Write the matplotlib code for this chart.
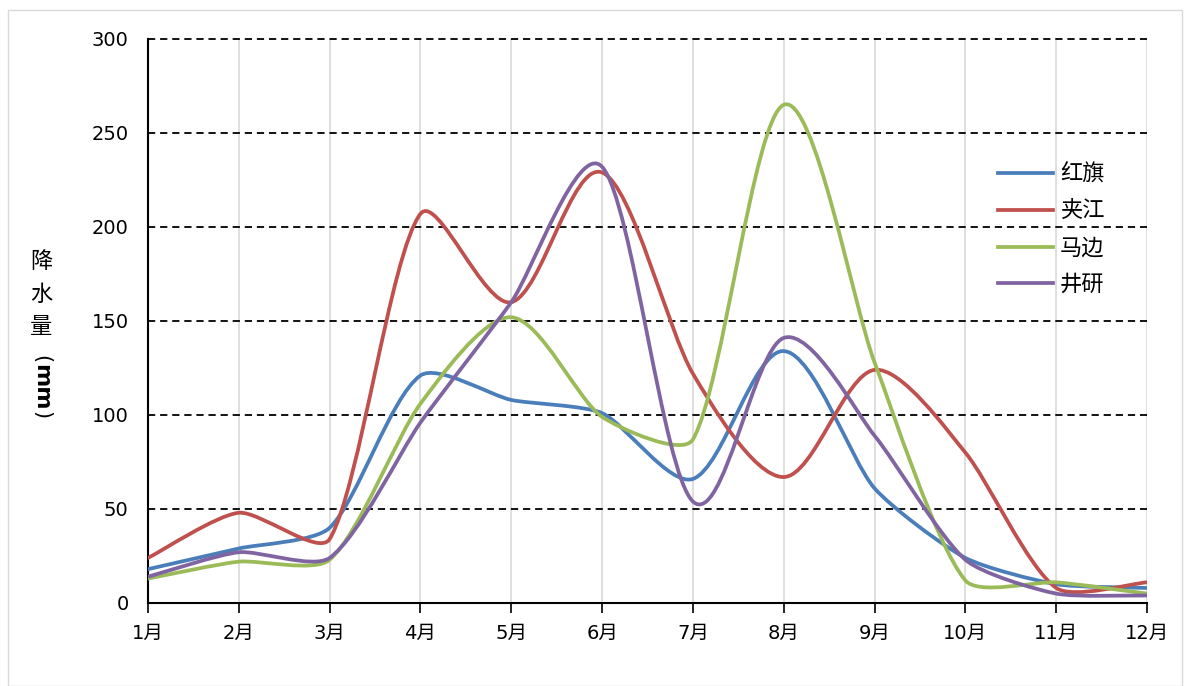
import matplotlib.pyplot as plt
import numpy as np
from matplotlib.path import Path
from matplotlib.patches import PathPatch, Rectangle
from matplotlib.lines import Line2D

months = ['1月', '2月', '3月', '4月', '5月', '6月', '7月', '8月', '9月', '10月', '11月', '12月']
hongqi = [18, 29, 40, 121, 108, 101, 66, 134, 61, 24, 10, 8]
jiajiang = [24, 48, 34, 207, 160, 229, 122, 67, 124, 80, 8, 11]
mabian = [13, 22, 23, 106, 152, 99, 87, 265, 128, 12, 11, 5]
jingyan = [14, 27, 24, 96, 160, 232, 54, 141, 89, 23, 5, 4]
names = ['红旗', '夹江', '马边', '井研']
colors = ['#4A7EBB', '#C0504D', '#9BBB59', '#8064A2']

fam = ['DejaVu Sans', 'Noto Sans CJK SC']
cjk = ['Noto Sans CJK SC', 'DejaVu Sans']

# pixel size of one month / one mm on the plot, used for the smoothing
SX = 999 / 11
SY = 564 / 300


def smooth_path(x, y, cap=0.22):
    # Excel-like smoothed line: catmull-rom handles, shortened next to short segments
    p = np.column_stack([np.asarray(x) * SX, np.asarray(y) * SY]).astype(float)
    n = len(p)
    h_in, h_out = [], []
    for i in range(n):
        a = p[i - 1] if i > 0 else p[i]
        b = p[i + 1] if i < n - 1 else p[i]
        t = (b - a) / 6
        L = np.linalg.norm(t)
        u = t / L
        d_in = np.linalg.norm(p[i] - a) if i > 0 else 0
        d_out = np.linalg.norm(b - p[i]) if i < n - 1 else 0
        h_in.append(u * min(L, cap * d_in if i > 0 else L))
        h_out.append(u * min(L, cap * d_out if i < n - 1 else L))
    verts = [p[0]]
    codes = [Path.MOVETO]
    for i in range(n - 1):
        verts += [p[i] + h_out[i], p[i + 1] - h_in[i + 1], p[i + 1]]
        codes += [Path.CURVE4] * 3
    verts = np.array(verts) / [SX, SY]
    return Path(verts, codes)


fig = plt.figure(figsize=(11.84, 6.86), dpi=100)
fig.patches.append(Rectangle((8 / 1184, 0), 1174 / 1184, 1 - 10 / 686, transform=fig.transFigure,
                             fill=False, edgecolor='#D9D9D9', linewidth=1))
ax = fig.add_axes([148 / 1184, 1 - 603 / 686, 999 / 1184, 564 / 686])

x = np.arange(1, 13)
for series, c in zip([hongqi, jiajiang, mabian, jingyan], colors):
    ax.add_patch(PathPatch(smooth_path(x, series), facecolor='none', edgecolor=c,
                           linewidth=2.7, capstyle='round', zorder=3))

ax.set_xlim(1, 12)
ax.set_ylim(0, 300)
ax.set_xticks(x)
ax.set_xticklabels(months, fontfamily=fam, fontsize=14)
ax.set_yticks(range(0, 301, 50))
ax.set_yticklabels([str(v) for v in range(0, 301, 50)], fontfamily=fam, fontsize=14)
ax.tick_params(axis='x', direction='out', length=7, width=1.2, pad=8)
ax.tick_params(axis='y', length=0, pad=14)

for v in x[1:]:
    ax.axvline(v, color='#D9D9D9', linewidth=1.2, zorder=1)
for v in range(50, 301, 50):
    ax.axhline(v, color='black', linewidth=1.3, linestyle=(0, (4, 2.7)), zorder=2, clip_on=False)

for s in ['top', 'right']:
    ax.spines[s].set_visible(False)
for s in ['left', 'bottom']:
    ax.spines[s].set_linewidth(1.5)

# y label: stacked characters, unit rotated
fig.text(41 / 1184, 1 - 262 / 686, '降', fontfamily=cjk, fontsize=16, ha='center', va='center')
fig.text(41 / 1184, 1 - 294 / 686, '水', fontfamily=cjk, fontsize=16, ha='center', va='center')
fig.text(41 / 1184, 1 - 326 / 686, '量', fontfamily=cjk, fontsize=16, ha='center', va='center')
fig.text(41 / 1184, 1 - 359 / 686, '(', fontsize=15, ha='center', va='center', rotation=-90)
fig.text(41 / 1184, 1 - 387 / 686, 'mm', fontsize=16, ha='center', va='center', rotation=-90,
         fontweight='bold')
fig.text(41 / 1184, 1 - 415 / 686, ')', fontsize=15, ha='center', va='center', rotation=-90)

handles = [Line2D([], [], color=c, linewidth=2.7) for c in colors]
fig.legend(handles, names, loc='upper left', bbox_to_anchor=(989 / 1184, 1 - 154 / 686),
           frameon=False, prop={'family': cjk, 'size': 16}, handlelength=2.5,
           labelspacing=0.62, handletextpad=0.3, borderaxespad=0)

fig.savefig('out.png', dpi=100)
